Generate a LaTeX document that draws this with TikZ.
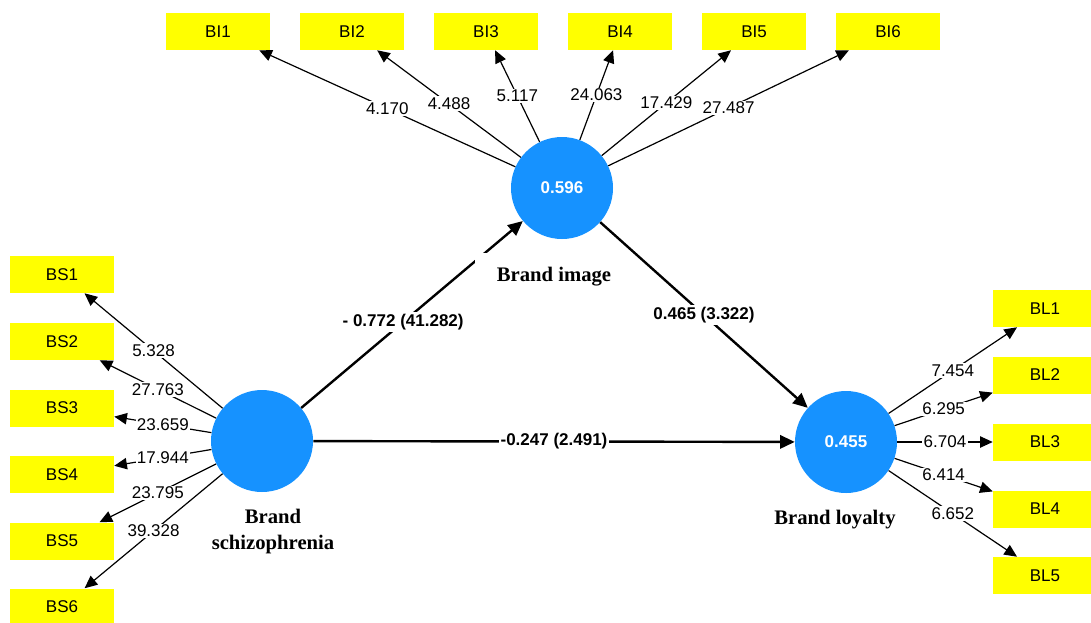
\documentclass[tikz,border=0pt]{standalone}
\usepackage{fontspec}
\setmainfont{Liberation Sans}
\newfontfamily\lvfont{Liberation Serif}
\usetikzlibrary{arrows.meta}
\definecolor{lvblue}{RGB}{22,146,255}
\definecolor{mvyellow}{RGB}{255,255,0}

\begin{document}
\begin{tikzpicture}[x=0.75pt,y=0.75pt,yscale=-1,xscale=1,
  indicator/.style={fill=mvyellow, minimum width=78pt, minimum height=27.75pt, inner sep=0pt, font=\fontsize{12.75}{15}\selectfont},
  latent/.style={circle, fill=lvblue, minimum size=76.5pt, inner sep=0pt, text=white, font=\bfseries\fontsize{12.75}{15}\selectfont},
  lvname/.style={inner sep=0pt, align=center, font=\lvfont\bfseries\fontsize{15.5}{19.5}\selectfont},
  loading/.style={-{Triangle[length=9.5pt,width=8.5pt]}, line width=0.9pt},
  weight/.style={fill=white, inner sep=1pt, font=\fontsize{12.75}{15}\selectfont},
  structural/.style={-{Triangle[length=11pt,width=10pt]}, line width=1.8pt},
  coef/.style={fill=white, inner sep=1.5pt, font=\bfseries\fontsize{12.75}{15}\selectfont}]
\useasboundingbox (0,0) rectangle (1091,622);

%Shape: Circle
\node [latent] (bi) at (562,188) {0.596};
\node [latent] (bs) at (262,441) {};
\node [latent] (bl) at (846,442) {0.455};

%Shape: Rectangle (brand image items)
\node [indicator] (bi1) at (218,31.5) {BI1};
\node [indicator] (bi2) at (352,31.5) {BI2};
\node [indicator] (bi3) at (486,31.5) {BI3};
\node [indicator] (bi4) at (620,31.5) {BI4};
\node [indicator] (bi5) at (754,31.5) {BI5};
\node [indicator] (bi6) at (888,31.5) {BI6};

%Shape: Rectangle (brand schizophrenia items)
\node [indicator] (bs1) at (62,274.5) {BS1};
\node [indicator] (bs2) at (62,341.5) {BS2};
\node [indicator] (bs3) at (62,408) {BS3};
\node [indicator] (bs4) at (62,474.5) {BS4};
\node [indicator] (bs5) at (62,541) {BS5};
\node [indicator] (bs6) at (62,607) {BS6};

%Shape: Rectangle (brand loyalty items)
\node [indicator] (bl1) at (1045,308.5) {BL1};
\node [indicator] (bl2) at (1045,375) {BL2};
\node [indicator] (bl3) at (1045,442) {BL3};
\node [indicator] (bl4) at (1045,509) {BL4};
\node [indicator] (bl5) at (1045,575.5) {BL5};

%Straight Lines (outer loadings)
\draw [loading] (bi) -- node [weight] {4.170} (bi1);
\draw [loading] (bi) -- node [weight] {4.488} (bi2);
\draw [loading] (bi) -- node [weight] {5.117} (bi3);
\draw [loading] (bi) -- node [weight] {24.063} (bi4);
\draw [loading] (bi) -- node [weight] {17.429} (bi5);
\draw [loading] (bi) -- node [weight] {27.487} (bi6);

\draw [loading] (bs) -- node [weight] {5.328} (bs1);
\draw [loading] (bs) -- node [weight] {27.763} (bs2);
\draw [loading] (bs) -- node [weight] {23.659} (bs3);
\draw [loading] (bs) -- node [weight] {17.944} (bs4);
\draw [loading] (bs) -- node [weight] {23.795} (bs5);
\draw [loading] (bs) -- node [weight] {39.328} (bs6);

\draw [loading] (bl) -- node [weight] {7.454} (bl1);
\draw [loading] (bl) -- node [weight] {6.295} (bl2);
\draw [loading] (bl) -- node [weight] {6.704} (bl3);
\draw [loading] (bl) -- node [weight] {6.414} (bl4);
\draw [loading] (bl) -- node [weight] {6.652} (bl5);

%Straight Lines (inner paths)
\draw [structural] (bs) -- node [coef, pos=0.46] {- 0.772 (41.282)} (bi);
\draw [structural] (bi) -- node [coef] {0.465 (3.322)} (bl);
\draw [structural] (bs) -- node [coef] {-0.247 (2.491)} (bl);

% Text Node
\node [lvname, fill=white, minimum width=118.5pt, minimum height=36pt] (biname) at (554,277) {Brand image};
% Text Node
\node [lvname] (bsname) at (273,532) {Brand\\schizophrenia};
% Text Node
\node [lvname] (blname) at (835,520) {Brand loyalty};

\end{tikzpicture}
\end{document}
